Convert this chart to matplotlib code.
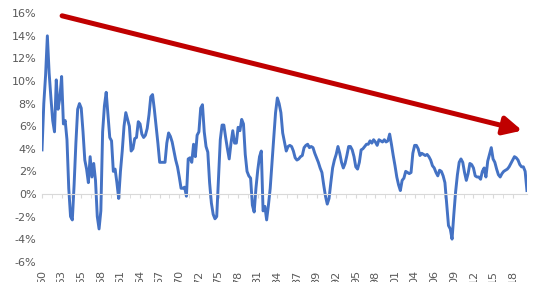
import matplotlib
matplotlib.use('Agg')
import matplotlib.pyplot as plt
import numpy as np
from matplotlib.ticker import MultipleLocator, FuncFormatter, FixedLocator

# quarterly growth, %
growth = [
    3.9, 8.0, 10.5, 14.0, 10.7, 8.5, 6.5, 5.5, 10.1, 7.5,
    8.5, 10.4, 6.2, 6.5, 4.8, 0.5, -2.0, -2.3, 0.8, 4.5,
    7.5, 8.0, 7.6, 5.5, 3.0, 2.2, 1.0, 3.3, 1.5, 2.7,
    1.2, -2.0, -3.1, -1.5, 5.5, 7.8, 9.0, 7.0, 5.0, 4.7,
    2.0, 2.2, 1.0, -0.4, 2.0, 3.8, 6.0, 7.2, 6.6, 6.0,
    3.8, 4.0, 4.9, 5.0, 6.4, 6.2, 5.3, 5.0, 5.2, 5.8,
    7.0, 8.6, 8.8, 7.5, 6.0, 4.5, 2.8, 2.8, 2.8, 2.8,
    4.5, 5.4, 5.1, 4.6, 3.8, 3.0, 2.4, 1.5, 0.5, 0.5,
    0.6, -0.2, 3.1, 3.2, 2.8, 4.4, 3.3, 5.2, 5.5, 7.6,
    7.9, 5.5, 4.2, 3.7, 1.0, -0.8, -1.8, -2.2, -2.0, 1.5,
    4.8, 6.1, 6.1, 5.0, 4.0, 3.1, 4.5, 5.6, 4.5, 4.5,
    5.9, 5.6, 6.6, 6.2, 3.5, 2.0, 1.6, 1.4, -1.0, -1.6,
    0.5, 2.1, 3.3, 3.8, -1.5, -1.1, -2.3, -1.0, 0.5, 2.8,
    5.0, 7.2, 8.5, 8.0, 7.2, 5.4, 4.6, 3.8, 4.2, 4.3,
    4.2, 3.8, 3.2, 3.0, 3.1, 3.3, 3.4, 4.1, 4.3, 4.4,
    4.1, 4.2, 4.1, 3.6, 3.2, 2.8, 2.3, 1.9, 0.8, -0.2,
    -0.9, -0.4, 1.0, 2.3, 3.0, 3.5, 4.2, 3.6, 2.8, 2.3,
    2.7, 3.4, 4.2, 4.2, 3.9, 3.3, 2.4, 2.2, 2.8, 3.9,
    4.0, 4.2, 4.4, 4.4, 4.7, 4.5, 4.8, 4.6, 4.3, 4.8,
    4.7, 4.6, 4.8, 4.6, 4.7, 5.3, 4.4, 3.4, 2.5, 1.5,
    0.8, 0.3, 1.2, 1.4, 2.0, 1.9, 1.8, 1.9, 3.6, 4.3,
    4.3, 4.0, 3.4, 3.6, 3.5, 3.4, 3.5, 3.3, 3.0, 2.5,
    2.3, 1.9, 1.6, 2.1, 2.0, 1.6, 1.0, -0.9, -2.8, -3.1,
    -4.0, -1.8, 0.2, 1.7, 2.8, 3.1, 2.8, 1.9, 1.2, 1.8,
    2.7, 2.6, 2.3, 1.6, 1.5, 1.5, 1.3, 2.0, 2.3, 1.5,
    2.9, 3.5, 4.1, 3.1, 2.8, 2.2, 1.7, 1.5, 1.8, 2.0,
    2.1, 2.2, 2.4, 2.7, 3.0, 3.3, 3.2, 3.0, 2.6, 2.4,
    2.4, 2.0, 0.3,
]
year_labels = ['50', '53', '55', '58', '61', '64', '67', '70', '72', '75',
               '78', '81', '84', '87', '89', '92', '95', '98', '01', '04',
               '06', '09', '12', '15', '18']
label_step = 11

x = np.arange(len(growth))
grey = '#595959'

fig = plt.figure(figsize=(5.4, 2.82), dpi=100)
ax = fig.add_axes([0.0778, 0.072, 0.898, 0.881])

ax.plot(x, growth, color='#4472C4', lw=2.1, solid_joinstyle='round')

ax.set_xlim(0, len(growth) - 1)
ax.set_ylim(-6, 16)
ax.yaxis.set_major_locator(MultipleLocator(2))
ax.yaxis.set_major_formatter(FuncFormatter(lambda v, p: '%d%%' % v))
ax.tick_params(axis='y', length=0, labelsize=8, labelcolor=grey, pad=4)

# category axis sits on the zero line, labels at the bottom
for s in ['top', 'right', 'left']:
    ax.spines[s].set_visible(False)
ax.spines['bottom'].set_position(('data', 0))
ax.spines['bottom'].set_color('#D9D9D9')
ax.spines['bottom'].set_linewidth(0.8)
ax.set_zorder(1)

major = np.arange(len(year_labels)) * label_step
ax.xaxis.set_major_locator(FixedLocator(major))
ax.xaxis.set_minor_locator(FixedLocator(major[:-1] + label_step / 2))
ax.set_xticklabels(year_labels, rotation=90)
ax.tick_params(axis='x', which='both', length=3, color='#D9D9D9',
               direction='out', labelsize=8, labelcolor=grey, pad=52)
ax.tick_params(axis='x', which='minor', labelbottom=False)

# trend arrow
ax.annotate('', xy=(0.967, 0.537), xytext=(0.115, 0.944),
            xycoords='figure fraction', textcoords='figure fraction',
            arrowprops=dict(arrowstyle='-|>,head_length=1.1,head_width=0.55',
                            lw=3.6, color='#C00000', shrinkA=0, shrinkB=0))

fig.savefig('out.png', dpi=100)
